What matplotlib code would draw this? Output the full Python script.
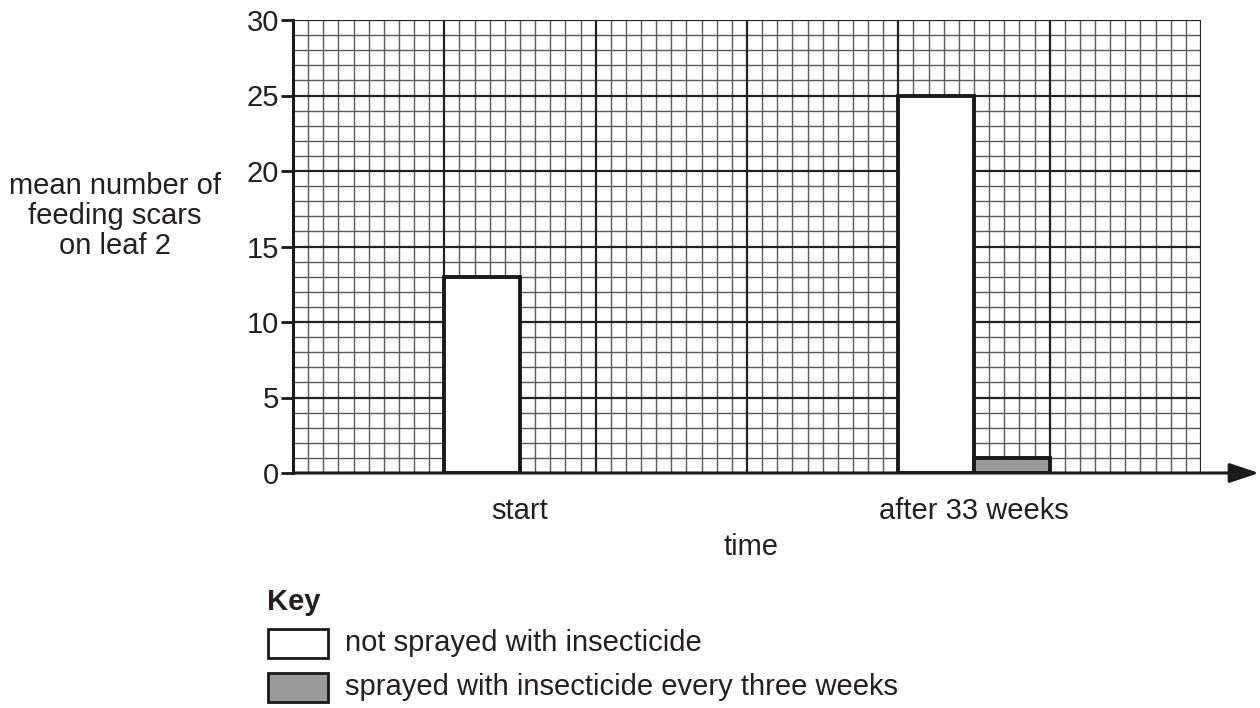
import matplotlib.pyplot as plt
from matplotlib.patches import Rectangle

plt.rcParams['font.family'] = ['Liberation Sans', 'DejaVu Sans']

# data
groups = ["start", "after 33 weeks"]
group_pos = [15, 45]
not_sprayed = [13, 25]
sprayed = [0, 1]
y_ticks = [0, 5, 10, 15, 20, 25, 30]

fs = 21
txt = '#231f20'

fig = plt.figure(figsize=(12.6, 7.08), dpi=100)
ax = fig.add_axes([293 / 1260, 1 - 473 / 708, 908 / 1260, 453 / 708])

ax.set_xlim(0, 60)
ax.set_ylim(0, 30)

# graph paper grid
for v in range(1, 60):
    if v % 10:
        ax.axvline(v, color='#5a5a5a', lw=1.0, zorder=1)
for v in range(1, 30):
    if v % 5:
        ax.axhline(v, color='#5a5a5a', lw=1.0, zorder=1)
for v in range(10, 61, 10):
    ax.axvline(v, color='#222222', lw=1.6, zorder=1.5)
for v in range(5, 31, 5):
    ax.axhline(v, color='#222222', lw=1.6, zorder=1.5)

w = 5
left = [p - w / 2 for p in group_pos]
right = [p + w / 2 for p in group_pos]
ax.bar(left, not_sprayed, width=w, color='white', edgecolor='#1a1a1a', lw=2.8, zorder=3)
bars = ax.bar(right, sprayed, width=w, color='#999999', edgecolor='#1a1a1a', lw=2.8, zorder=3)
for b, v in zip(bars, sprayed):
    if v == 0:
        b.set_visible(False)

for s in ['top', 'right']:
    ax.spines[s].set_visible(False)
ax.spines['left'].set_linewidth(2.2)
ax.spines['left'].set_color('#1a1a1a')
ax.spines['bottom'].set_visible(False)

ax.set_yticks(y_ticks)
ax.tick_params(axis='y', length=9, width=2, color='#1a1a1a', labelsize=fs, pad=1, labelcolor=txt)
ax.set_xticks(group_pos)
ax.set_xticklabels(groups)
ax.tick_params(axis='x', length=0, labelsize=fs, pad=17, labelcolor=txt)

# x axis with arrow
ax.annotate('', xy=(1259 / 1260, 1 - 473 / 708), xytext=(293 / 1260, 1 - 473 / 708),
            xycoords='figure fraction', textcoords='figure fraction',
            arrowprops=dict(arrowstyle='-|>,head_length=1.8,head_width=0.6', color='#1a1a1a',
                            lw=2.2, shrinkA=0, shrinkB=0))

fig.text(115 / 1260, 1 - 216 / 708, "mean number of\nfeeding scars\non leaf 2", ha='center', va='center',
         fontsize=fs, color=txt, linespacing=1.08)
fig.text(751 / 1260, 1 - 547 / 708, "time", ha='center', va='center', fontsize=fs, color=txt)
fig.text(267 / 1260, 1 - 602 / 708, "Key", ha='left', va='center', fontsize=fs, fontweight='bold', color=txt)

fig.patches.append(Rectangle((268 / 1260, 1 - 658 / 708), 60 / 1260, 29 / 708, transform=fig.transFigure,
                             facecolor='white', edgecolor='#1a1a1a', lw=2))
fig.patches.append(Rectangle((268 / 1260, 1 - 702 / 708), 60 / 1260, 29 / 708, transform=fig.transFigure,
                             facecolor='#999999', edgecolor='#1a1a1a', lw=2))
fig.text(345 / 1260, 1 - 643 / 708, "not sprayed with insecticide", ha='left', va='center', fontsize=fs, color=txt)
fig.text(345 / 1260, 1 - 687 / 708, "sprayed with insecticide every three weeks", ha='left', va='center', fontsize=fs, color=txt)

fig.savefig('out.png', dpi=100)
